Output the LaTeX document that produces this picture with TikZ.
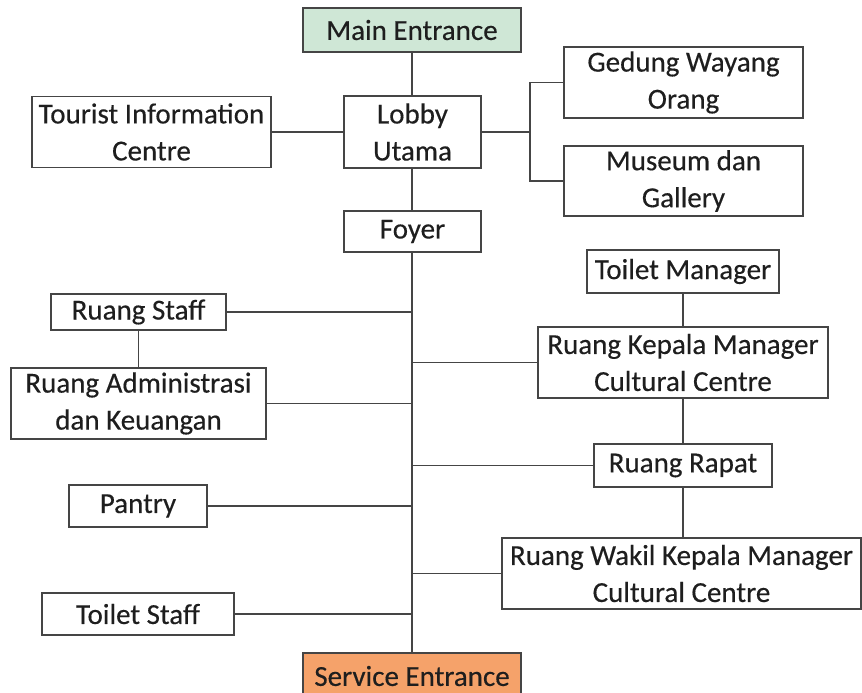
\documentclass[tikz,border=0pt]{standalone}
\usepackage{fontspec}
\newfontfamily\roomfont{Carlito}[FakeBold=0.35]
\definecolor{entrygreen}{HTML}{CFE7D6}
\definecolor{serviceorange}{HTML}{F5A26A}
\definecolor{edgegray}{HTML}{454545}
\definecolor{inkgray}{HTML}{1E1E1E}
\tikzset{
  room/.style={draw=edgegray, line width=1.6pt, fill=white, align=center,
    inner sep=0pt, text=inkgray,
    font=\roomfont\fontsize{29}{37}\selectfont},
  link/.style={draw=edgegray, line width=1.6pt}
}
\begin{document}
\begin{tikzpicture}[x=1pt, y=-1pt]
\useasboundingbox (0,0) rectangle (862,693);
\fill[white] (0,0) rectangle (862,693);
\begin{scope}
\clip (0,0) rectangle (862,693);

% entrances
\node[room, fill=entrygreen, minimum width=218pt, minimum height=44pt] (main) at (412,30) {Main Entrance};
\node[room, fill=serviceorange, minimum width=218pt, minimum height=46pt] (service) at (412,676) {Service Entrance};

% upper block
\node[room, minimum width=137pt, minimum height=72pt] (lobby) at (412.5,132) {Lobby\\Utama};
\node[room, minimum width=239pt, minimum height=71pt] (tic) at (151.5,132) {Tourist Information\\Centre};
\node[room, minimum width=239pt, minimum height=71pt] (gedung) at (683.5,82.5) {Gedung Wayang\\Orang};
\node[room, minimum width=239pt, minimum height=70pt] (museum) at (683.5,181) {Museum dan\\Gallery};
\node[room, minimum width=137pt, minimum height=41pt] (foyer) at (412.5,231.5) {Foyer};

% left wing
\node[room, minimum width=175pt, minimum height=36pt] (staff) at (138.5,312) {Ruang Staff};
\node[room, minimum width=255pt, minimum height=71pt] (admin) at (138.5,403.5) {Ruang Administrasi\\dan Keuangan};
\node[room, minimum width=138pt, minimum height=42pt] (pantry) at (138,506) {Pantry};
\node[room, minimum width=192pt, minimum height=42pt] (toilets) at (138,614) {Toilet Staff};

% right wing
\node[room, minimum width=192pt, minimum height=43pt] (toiletm) at (683,271.5) {Toilet Manager};
\node[room, minimum width=290pt, minimum height=71pt] (kepala) at (683,362.5) {Ruang Kepala Manager\\Cultural Centre};
\node[room, minimum width=178pt, minimum height=43pt] (rapat) at (683,465.5) {Ruang Rapat};
\node[room, minimum width=359pt, minimum height=71pt] (wakil) at (681.5,573.5) {Ruang Wakil Kepala Manager\\Cultural Centre};

% connectors
\coordinate (spine) at (412,252);
\coordinate (fork) at (530,132);
\draw[link] (main.south) -- (main.south |- lobby.north);
\draw[link] (tic.east) -- (tic.east -| lobby.west);
\draw[link] (lobby.east) -- (fork);
\draw[link] (gedung.west) -| (fork) |- (museum.west);
\draw[link] (main.south |- lobby.south) -- (main.south |- foyer.north);
\draw[link] (spine) -- (service.north);

\draw[link] (staff.east) -- (staff.east -| spine);
\draw[link] (staff.south) -- (staff.south |- admin.north);
\draw[link] (admin.east) -- (admin.east -| spine);
\draw[link] (pantry.east) -- (pantry.east -| spine);
\draw[link] (toilets.east) -- (toilets.east -| spine);

\draw[link] (kepala.west) -- (kepala.west -| spine);
\draw[link] (rapat.west) -- (rapat.west -| spine);
\draw[link] (wakil.west) -- (wakil.west -| spine);
\draw[link] (toiletm.south) -- (kepala.north);
\draw[link] (kepala.south) -- (rapat.north);
\draw[link] (rapat.south) -- (rapat.south |- wakil.north);
\end{scope}
\end{tikzpicture}
\end{document}
